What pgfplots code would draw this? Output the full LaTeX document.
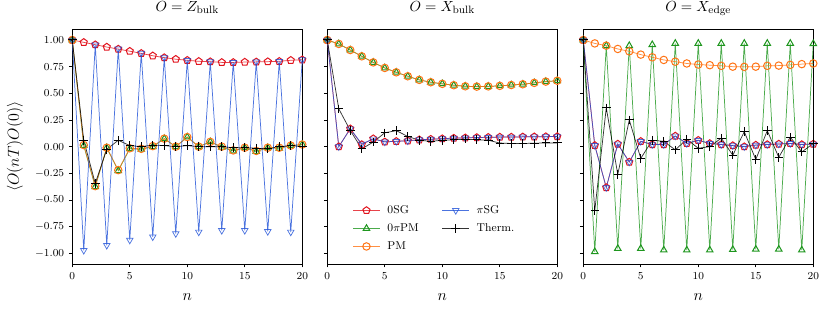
\documentclass[border=0pt]{standalone}
\usepackage{pgfplots}
\pgfplotsset{compat=1.18}
\usepackage{pgfplotstable}
\usetikzlibrary{plotmarks}

\definecolor{cRed}{RGB}{225,20,30}
\definecolor{cGreen}{RGB}{30,150,30}
\definecolor{cOrange}{RGB}{255,115,20}
\definecolor{cBlue}{RGB}{30,80,215}
\newcommand{\fs}{\fontsize{8.5}{10}\selectfont}
\newcommand{\fl}{\fontsize{11.5}{13}\selectfont}
\newcommand{\ft}{\fontsize{11}{13}\selectfont}

\pgfplotstableread{
n sg pipm pm pisg th
0 1.000 1.000 1.000 1.000 1.000
1 0.978 0.010 0.015 -0.972 0.060
2 0.956 -0.375 -0.370 0.955 -0.345
3 0.934 -0.010 -0.010 -0.925 -0.025
4 0.915 -0.225 -0.220 0.916 0.060
5 0.895 -0.020 -0.015 -0.876 0.010
6 0.875 -0.025 -0.020 0.876 0.000
7 0.852 0.000 0.005 -0.845 0.015
8 0.835 0.075 0.075 0.834 0.010
9 0.820 0.000 0.000 -0.815 0.000
10 0.810 0.090 0.090 0.810 0.010
11 0.800 0.000 0.000 -0.800 0.000
12 0.797 0.045 0.045 0.797 0.000
13 0.790 -0.005 0.000 -0.785 0.000
14 0.790 -0.040 -0.035 0.790 -0.010
15 0.793 -0.010 -0.010 -0.785 -0.010
16 0.795 -0.045 -0.040 0.795 -0.015
17 0.797 -0.010 -0.010 -0.795 -0.020
18 0.800 -0.015 -0.010 0.800 0.000
19 0.810 0.010 0.010 -0.800 0.010
20 0.815 0.020 0.020 0.815 0.000
}\dataZ

\pgfplotstableread{
n sg pipm pm pisg th
0 1.000 1.000 1.000 1.000 1.000
1 0.000 0.963 0.963 0.000 0.355
2 0.168 0.906 0.906 0.168 0.152
3 0.020 0.847 0.847 0.025 -0.020
4 0.075 0.790 0.790 0.072 0.043
5 0.045 0.738 0.738 0.045 0.130
6 0.050 0.697 0.697 0.050 0.150
7 0.055 0.660 0.660 0.055 0.096
8 0.065 0.626 0.626 0.065 0.060
9 0.070 0.604 0.604 0.070 0.050
10 0.075 0.589 0.589 0.075 0.060
11 0.080 0.576 0.576 0.080 0.065
12 0.083 0.566 0.566 0.083 0.070
13 0.086 0.563 0.563 0.086 0.065
14 0.088 0.565 0.565 0.088 0.060
15 0.090 0.570 0.570 0.090 0.034
16 0.090 0.578 0.578 0.090 0.030
17 0.092 0.585 0.585 0.092 0.030
18 0.093 0.598 0.598 0.093 0.032
19 0.094 0.610 0.610 0.094 0.035
20 0.095 0.618 0.618 0.095 0.035
}\dataXb

\pgfplotstableread{
n sg pipm pm pisg th
0 1.000 1.000 1.000 1.000 1.000
1 0.012 -0.985 0.968 0.012 -0.600
2 -0.383 0.947 0.947 -0.383 0.364
3 0.025 -0.955 0.916 0.025 -0.260
4 -0.144 0.947 0.894 -0.144 0.250
5 0.050 -0.955 0.863 0.050 -0.110
6 0.020 0.956 0.838 0.020 0.060
7 0.020 -0.970 0.813 0.020 0.050
8 0.100 0.968 0.797 0.100 -0.030
9 0.030 -0.970 0.780 0.030 0.070
10 0.060 0.968 0.770 0.060 -0.015
11 0.030 -0.970 0.764 0.030 0.000
12 0.020 0.968 0.758 0.020 0.080
13 0.010 -0.965 0.750 0.010 -0.080
14 0.000 0.968 0.748 0.000 0.140
15 0.015 -0.962 0.750 0.015 -0.120
16 0.020 0.968 0.758 0.020 0.150
17 0.025 -0.962 0.760 0.025 -0.100
18 0.030 0.968 0.767 0.030 0.090
19 0.020 -0.970 0.774 0.020 -0.050
20 0.025 0.965 0.780 0.025 0.030
}\dataXe

\pgfplotsset{
  panel/.style={
    width=172.5pt, height=176pt, scale only axis,
    xmin=0, xmax=20, ymin=-1.1, ymax=1.1,
    xtick={0,5,10,15,20},
    ytick={-1,-0.75,-0.5,-0.25,0,0.25,0.5,0.75,1},
    tick pos=left, tick align=outside,
    major tick length=2.6pt,
    every tick/.style={black, line width=0.6pt},
    axis line style={line width=0.6pt},
    tick label style={font=\fs},
    yticklabel style={/pgf/number format/fixed, /pgf/number format/fixed zerofill, /pgf/number format/precision=2},
    title style={font=\ft, at={(axis description cs:0.5,1)}, anchor=base, yshift=7.5pt},
    xlabel={$n$}, xlabel style={font=\fl, at={(axis description cs:0.5,-0.14)}, anchor=center},
    clip=false,
  },
  lnstyle/.style={line width=0.55pt, draw opacity=0.8, mark size=2.8pt, mark options={solid, line width=0.75pt, draw opacity=1, fill=none}},
  sgS/.style={lnstyle, color=cRed, mark=pentagon},
  pipmS/.style={lnstyle, color=cGreen, mark=triangle},
  pmS/.style={lnstyle, color=cOrange, mark=o},
  pisgS/.style={lnstyle, color=cBlue, mark=triangle, mark options={rotate=180}},
  thS/.style={lnstyle, color=black, mark=+, mark size=3.2pt},
}

\begin{document}
\begin{tikzpicture}
\begin{axis}[panel, at={(0pt,0pt)}, anchor=south west,
  title={$O = Z_{\mathrm{bulk}}$},
  ylabel={$\langle O(nT)O(0)\rangle$},
  ylabel style={font=\fl, at={(axis description cs:-0.25,0.5)}, anchor=center}]
\addplot[sgS] table[x=n,y=sg] {\dataZ};
\addplot[pipmS] table[x=n,y=pipm] {\dataZ};
\addplot[pmS] table[x=n,y=pm] {\dataZ};
\addplot[pisgS] table[x=n,y=pisg] {\dataZ};
\addplot[thS] table[x=n,y=th] {\dataZ};
\end{axis}

\begin{axis}[panel, at={(191.25pt,0pt)}, anchor=south west,
  title={$O = X_{\mathrm{bulk}}$}, yticklabels={},
  legend columns=2, legend cell align=left,
  legend image code/.code={\draw[mark repeat=2,mark phase=2] plot coordinates {(0cm,0cm) (0.35cm,0cm) (0.7cm,0cm)};},
  legend style={at={(axis cs:2.2,-0.53)}, anchor=north west, draw=none, fill=none, inner sep=0pt,
    font=\fs, row sep=3pt, column sep=4pt,
    nodes={inner sep=1.5pt, text height=6pt, text depth=1.5pt},
    /tikz/every even column/.append style={column sep=16pt}}]
\addlegendimage{sgS}\addlegendentry{0SG}
\addlegendimage{pisgS}\addlegendentry{$\pi$SG}
\addlegendimage{pipmS}\addlegendentry{0$\pi$PM}
\addlegendimage{thS}\addlegendentry{Therm.}
\addlegendimage{pmS}\addlegendentry{PM}
\addplot[sgS, forget plot] table[x=n,y=sg] {\dataXb};
\addplot[pipmS, forget plot] table[x=n,y=pipm] {\dataXb};
\addplot[pmS, forget plot] table[x=n,y=pm] {\dataXb};
\addplot[pisgS, forget plot] table[x=n,y=pisg] {\dataXb};
\addplot[thS, forget plot] table[x=n,y=th] {\dataXb};
\end{axis}

\begin{axis}[panel, at={(383.25pt,0pt)}, anchor=south west,
  title={$O = X_{\mathrm{edge}}$}, yticklabels={}]
\addplot[sgS] table[x=n,y=sg] {\dataXe};
\addplot[pipmS] table[x=n,y=pipm] {\dataXe};
\addplot[pmS] table[x=n,y=pm] {\dataXe};
\addplot[pisgS] table[x=n,y=pisg] {\dataXe};
\addplot[thS] table[x=n,y=th] {\dataXe};
\end{axis}

\pgfresetboundingbox
\path[use as bounding box] (-54.2pt,-36.75pt) rectangle (568.3pt,198pt);
\end{tikzpicture}
\end{document}
